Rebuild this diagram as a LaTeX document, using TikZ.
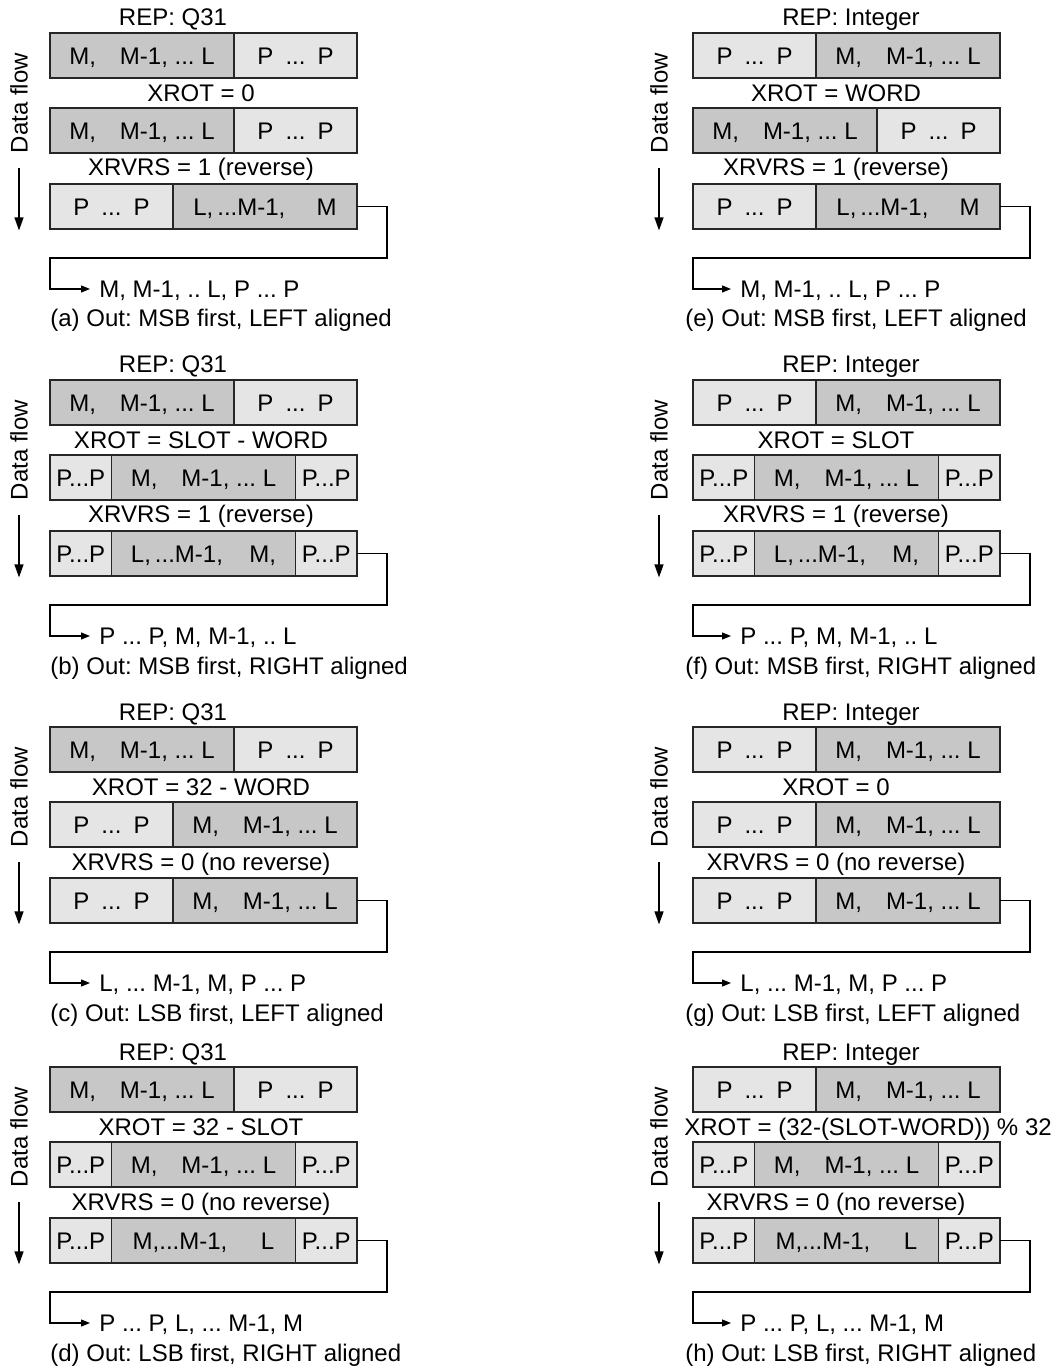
\documentclass[tikz,border=0pt]{standalone}
\usepackage{fontspec}
\setmainfont{Liberation Sans}
\usepackage{tikz}
\usetikzlibrary{positioning, arrows.meta}

\definecolor{msbgray}{gray}{0.78}
\definecolor{padgray}{gray}{0.90}

\frenchspacing

\begin{document}
\begin{tikzpicture}[
    x=0.5pt, y=0.5pt,
    font=\fontsize{12}{14}\selectfont,
    cell/.style={
        draw=black!85, line width=0.6pt,
        inner sep=0pt, outer sep=0pt,
        minimum height=22.5pt,
        text height=8.6pt, text depth=0pt,
        anchor=north west
    },
    msb/.style={cell, fill=msbgray, minimum width=92pt},
    pad/.style={cell, fill=padgray, minimum width=61.5pt},
    spad/.style={cell, fill=padgray, minimum width=30.75pt},
    setting/.style={anchor=base, inner sep=0pt},
    outtext/.style={anchor=west, inner sep=4.5pt, text height=8.6pt, text depth=0pt},
    caption/.style={anchor=base west, inner sep=0pt},
    flowlabel/.style={rotate=90, inner sep=0pt},
    flow/.style={line width=0.6pt, -{Triangle[length=6.5pt,width=4.5pt]}},
    route/.style={line width=0.6pt, -{Triangle[length=4.5pt,width=3.5pt]}}
]

\useasboundingbox (0,0) rectangle (1053,-1368);

% ---- Left column: REP Q31 ----

% (a) MSB first, LEFT aligned
\begin{scope}[shift={(50,-33)}]
\node[setting] (arep) at (123,7) {REP: Q31};
\node[msb] (a1l) at (0,0) {M,\quad M-1, ... L};
\node[pad, right=0pt of a1l] (a1r) {P\enspace...\enspace P};
\node[setting] (arot) at (151,-68.5) {XROT = 0};
\node[msb] (a2l) at (0,-75) {M,\quad M-1, ... L};
\node[pad, right=0pt of a2l] (a2r) {P\enspace...\enspace P};
\node[setting] (arvs) at (151,-143) {XRVRS = 1 (reverse)};
\node[pad] (a3l) at (0,-151) {P\enspace...\enspace P};
\node[msb, right=0pt of a3l] (a3r) {L,\,...M-1,\hspace{1.3em}M};
\node[flowlabel] (adf) at (-31,-70) {Data flow};
\draw[flow] ([yshift=-7.5pt]adf.west) -- ++(0,-62);
\coordinate (aturn) at (0,-225);
\node[outtext] (aout) at (40,-256) {M, M-1, .. L, P ... P};
\draw[route] (a3r.east) -- ++(30,0) |- (aturn) |- (aout.west);
\node[caption] (acap) at (0,-294) {(a) Out: MSB first, LEFT aligned};
\end{scope}

% (b) MSB first, RIGHT aligned
\begin{scope}[shift={(50,-380)}]
\node[setting] (brep) at (123,7) {REP: Q31};
\node[msb] (b1l) at (0,0) {M,\quad M-1, ... L};
\node[pad, right=0pt of b1l] (b1r) {P\enspace...\enspace P};
\node[setting] (brot) at (151,-68.5) {XROT = SLOT - WORD};
\node[spad] (b2l) at (0,-75) {P...P};
\node[msb, right=0pt of b2l] (b2m) {M,\quad M-1, ... L};
\node[spad, right=0pt of b2m] (b2r) {P...P};
\node[setting] (brvs) at (151,-143) {XRVRS = 1 (reverse)};
\node[spad] (b3l) at (0,-151) {P...P};
\node[msb, right=0pt of b3l] (b3m) {L,\,...M-1,\hspace{1.1em}M,};
\node[spad, right=0pt of b3m] (b3r) {P...P};
\node[flowlabel] (bdf) at (-31,-70) {Data flow};
\draw[flow] ([yshift=-7.5pt]bdf.west) -- ++(0,-62);
\coordinate (bturn) at (0,-225);
\node[outtext] (bout) at (40,-256) {P ... P, M, M-1, .. L};
\draw[route] (b3r.east) -- ++(30,0) |- (bturn) |- (bout.west);
\node[caption] (bcap) at (0,-294) {(b) Out: MSB first, RIGHT aligned};
\end{scope}

% (c) LSB first, LEFT aligned
\begin{scope}[shift={(50,-727)}]
\node[setting] (crep) at (123,7) {REP: Q31};
\node[msb] (c1l) at (0,0) {M,\quad M-1, ... L};
\node[pad, right=0pt of c1l] (c1r) {P\enspace...\enspace P};
\node[setting] (crot) at (151,-68.5) {XROT = 32 - WORD};
\node[pad] (c2l) at (0,-75) {P\enspace...\enspace P};
\node[msb, right=0pt of c2l] (c2r) {M,\quad M-1, ... L};
\node[setting] (crvs) at (151,-143) {XRVRS = 0 (no reverse)};
\node[pad] (c3l) at (0,-151) {P\enspace...\enspace P};
\node[msb, right=0pt of c3l] (c3r) {M,\quad M-1, ... L};
\node[flowlabel] (cdf) at (-31,-70) {Data flow};
\draw[flow] ([yshift=-7.5pt]cdf.west) -- ++(0,-62);
\coordinate (cturn) at (0,-225);
\node[outtext] (cout) at (40,-256) {L, ... M-1, M, P ... P};
\draw[route] (c3r.east) -- ++(30,0) |- (cturn) |- (cout.west);
\node[caption] (ccap) at (0,-294) {(c) Out: LSB first, LEFT aligned};
\end{scope}

% (d) LSB first, RIGHT aligned
\begin{scope}[shift={(50,-1067)}]
\node[setting] (drep) at (123,7) {REP: Q31};
\node[msb] (d1l) at (0,0) {M,\quad M-1, ... L};
\node[pad, right=0pt of d1l] (d1r) {P\enspace...\enspace P};
\node[setting] (drot) at (151,-68.5) {XROT = 32 - SLOT};
\node[spad] (d2l) at (0,-75) {P...P};
\node[msb, right=0pt of d2l] (d2m) {M,\quad M-1, ... L};
\node[spad, right=0pt of d2m] (d2r) {P...P};
\node[setting] (drvs) at (151,-143) {XRVRS = 0 (no reverse)};
\node[spad] (d3l) at (0,-151) {P...P};
\node[msb, right=0pt of d3l] (d3m) {M,...M-1,\hspace{1.4em}L};
\node[spad, right=0pt of d3m] (d3r) {P...P};
\node[flowlabel] (ddf) at (-31,-70) {Data flow};
\draw[flow] ([yshift=-7.5pt]ddf.west) -- ++(0,-62);
\coordinate (dturn) at (0,-225);
\node[outtext] (dout) at (40,-256) {P ... P, L, ... M-1, M};
\draw[route] (d3r.east) -- ++(30,0) |- (dturn) |- (dout.west);
\node[caption] (dcap) at (0,-294) {(d) Out: LSB first, RIGHT aligned};
\end{scope}

% ---- Right column: REP Integer ----

% (e) MSB first, LEFT aligned
\begin{scope}[shift={(693,-33)}]
\node[setting] (erep) at (158,7) {REP: Integer};
\node[pad] (e1l) at (0,0) {P\enspace...\enspace P};
\node[msb, right=0pt of e1l] (e1r) {M,\quad M-1, ... L};
\node[setting] (erot) at (143,-68.5) {XROT = WORD};
\node[msb] (e2l) at (0,-75) {M,\quad M-1, ... L};
\node[pad, right=0pt of e2l] (e2r) {P\enspace...\enspace P};
\node[setting] (ervs) at (143,-143) {XRVRS = 1 (reverse)};
\node[pad] (e3l) at (0,-151) {P\enspace...\enspace P};
\node[msb, right=0pt of e3l] (e3r) {L,\,...M-1,\hspace{1.3em}M};
\node[flowlabel] (edf) at (-34,-70) {Data flow};
\draw[flow] ([yshift=-7.5pt]edf.west) -- ++(0,-62);
\coordinate (eturn) at (0,-225);
\node[outtext] (eout) at (38,-256) {M, M-1, .. L, P ... P};
\draw[route] (e3r.east) -- ++(30,0) |- (eturn) |- (eout.west);
\node[caption] (ecap) at (-8,-294) {(e) Out: MSB first, LEFT aligned};
\end{scope}

% (f) MSB first, RIGHT aligned
\begin{scope}[shift={(693,-380)}]
\node[setting] (frep) at (158,7) {REP: Integer};
\node[pad] (f1l) at (0,0) {P\enspace...\enspace P};
\node[msb, right=0pt of f1l] (f1r) {M,\quad M-1, ... L};
\node[setting] (frot) at (143,-68.5) {XROT = SLOT};
\node[spad] (f2l) at (0,-75) {P...P};
\node[msb, right=0pt of f2l] (f2m) {M,\quad M-1, ... L};
\node[spad, right=0pt of f2m] (f2r) {P...P};
\node[setting] (frvs) at (143,-143) {XRVRS = 1 (reverse)};
\node[spad] (f3l) at (0,-151) {P...P};
\node[msb, right=0pt of f3l] (f3m) {L,\,...M-1,\hspace{1.1em}M,};
\node[spad, right=0pt of f3m] (f3r) {P...P};
\node[flowlabel] (fdf) at (-34,-70) {Data flow};
\draw[flow] ([yshift=-7.5pt]fdf.west) -- ++(0,-62);
\coordinate (fturn) at (0,-225);
\node[outtext] (fout) at (38,-256) {P ... P, M, M-1, .. L};
\draw[route] (f3r.east) -- ++(30,0) |- (fturn) |- (fout.west);
\node[caption] (fcap) at (-8,-294) {(f) Out: MSB first, RIGHT aligned};
\end{scope}

% (g) LSB first, LEFT aligned
\begin{scope}[shift={(693,-727)}]
\node[setting] (grep) at (158,7) {REP: Integer};
\node[pad] (g1l) at (0,0) {P\enspace...\enspace P};
\node[msb, right=0pt of g1l] (g1r) {M,\quad M-1, ... L};
\node[setting] (grot) at (143,-68.5) {XROT = 0};
\node[pad] (g2l) at (0,-75) {P\enspace...\enspace P};
\node[msb, right=0pt of g2l] (g2r) {M,\quad M-1, ... L};
\node[setting] (grvs) at (143,-143) {XRVRS = 0 (no reverse)};
\node[pad] (g3l) at (0,-151) {P\enspace...\enspace P};
\node[msb, right=0pt of g3l] (g3r) {M,\quad M-1, ... L};
\node[flowlabel] (gdf) at (-34,-70) {Data flow};
\draw[flow] ([yshift=-7.5pt]gdf.west) -- ++(0,-62);
\coordinate (gturn) at (0,-225);
\node[outtext] (gout) at (38,-256) {L, ... M-1, M, P ... P};
\draw[route] (g3r.east) -- ++(30,0) |- (gturn) |- (gout.west);
\node[caption] (gcap) at (-8,-294) {(g) Out: LSB first, LEFT aligned};
\end{scope}

% (h) LSB first, RIGHT aligned
\begin{scope}[shift={(693,-1067)}]
\node[setting] (hrep) at (158,7) {REP: Integer};
\node[pad] (h1l) at (0,0) {P\enspace...\enspace P};
\node[msb, right=0pt of h1l] (h1r) {M,\quad M-1, ... L};
\node[setting] (hrot) at (175,-68.5) {XROT = (32-(SLOT-WORD)) \% 32};
\node[spad] (h2l) at (0,-75) {P...P};
\node[msb, right=0pt of h2l] (h2m) {M,\quad M-1, ... L};
\node[spad, right=0pt of h2m] (h2r) {P...P};
\node[setting] (hrvs) at (143,-143) {XRVRS = 0 (no reverse)};
\node[spad] (h3l) at (0,-151) {P...P};
\node[msb, right=0pt of h3l] (h3m) {M,...M-1,\hspace{1.4em}L};
\node[spad, right=0pt of h3m] (h3r) {P...P};
\node[flowlabel] (hdf) at (-34,-70) {Data flow};
\draw[flow] ([yshift=-7.5pt]hdf.west) -- ++(0,-62);
\coordinate (hturn) at (0,-225);
\node[outtext] (hout) at (38,-256) {P ... P, L, ... M-1, M};
\draw[route] (h3r.east) -- ++(30,0) |- (hturn) |- (hout.west);
\node[caption] (hcap) at (-8,-294) {(h) Out: LSB first, RIGHT aligned};
\end{scope}

\end{tikzpicture}
\end{document}
